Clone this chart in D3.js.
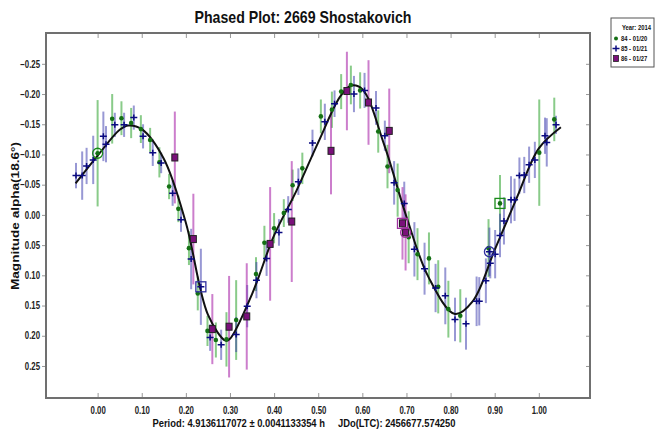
<!DOCTYPE html>
<html><head><meta charset="utf-8">
<script src="https://cdn.jsdelivr.net/npm/d3@7/dist/d3.min.js"></script>
<style>
body{margin:0;background:#fff;}
text{font-family:"Liberation Sans",Arial,sans-serif;font-weight:bold;}
</style></head>
<body><svg id="c" width="657" height="432"></svg>
<script>
const title = "Phased Plot: 2669 Shostakovich";
const yLabel = "Magnitude alpha(18.6°)";
const footer = "Period: 4.9136117072 ± 0.0041133354 h     JDo(LTC): 2456677.574250";
const xTicks = [0,0.1,0.2,0.3,0.4,0.5,0.6,0.7,0.8,0.9,1.0];
const yTicks = [-0.25,-0.2,-0.15,-0.1,-0.05,0,0.05,0.1,0.15,0.2,0.25];
const legendTitle = "Year: 2014";
const seriesNames = ["84 - 01/20","85 - 01/21","86 - 01/27"];

// [phase, magnitude, error]
const s84 = [[0.000,-0.102,0.088],[0.033,-0.159,0.041],[0.054,-0.160,0.028],[0.076,-0.152,0.025],[0.098,-0.142,0.023],
[0.119,-0.124,0.020],[0.140,-0.087,0.025],[0.162,-0.047,0.021],[0.183,-0.010,0.022],[0.207,0.055,0.028],[0.227,0.130,0.028],
[0.249,0.192,0.025],[0.268,0.207,0.029],[0.292,0.206,0.045],[0.314,0.174,0.066],[0.359,0.098,0.028],[0.378,0.046,0.028],
[0.400,0.022,0.025],[0.422,-0.003,0.023],[0.442,-0.049,0.026],[0.464,-0.077,0.026],[0.506,-0.163,0.028],[0.531,-0.174,0.030],
[0.552,-0.204,0.029],[0.574,-0.215,0.032],[0.595,-0.206,0.030],[0.636,-0.138,0.035],[0.657,-0.080,0.036],[0.680,-0.041,0.044],
[0.705,0.037,0.043],[0.725,0.065,0.043],[0.751,0.072,0.043],[0.772,0.119,0.044],[0.795,0.156,0.047],[0.822,0.167,0.044],
[0.886,0.055,0.048],[0.912,-0.019,0.047],[1.001,-0.103,0.088],[1.035,-0.158,0.036]];
const s85 = [[-0.049,-0.065,0.021],[-0.035,-0.065,0.040],[-0.025,-0.081,0.030],[-0.010,-0.091,0.040],[0.013,-0.130,0.041],
[0.019,-0.117,0.030],[0.039,-0.149,0.020],[0.060,-0.149,0.020],[0.082,-0.161,0.020],[0.103,-0.130,0.020],[0.125,-0.103,0.022],
[0.144,-0.086,0.017],[0.170,-0.036,0.021],[0.189,0.008,0.020],[0.212,0.073,0.050],[0.234,0.119,0.063],[0.255,0.203,0.022],
[0.280,0.215,0.025],[0.314,0.198,0.029],[0.339,0.151,0.035],[0.360,0.108,0.030],[0.383,0.072,0.029],[0.411,0.029,0.022],
[0.432,-0.009,0.022],[0.455,-0.055,0.022],[0.487,-0.119,0.022],[0.515,-0.154,0.030],[0.537,-0.184,0.022],[0.581,-0.200,0.030],
[0.605,-0.206,0.029],[0.631,-0.177,0.028],[0.651,-0.131,0.025],[0.672,-0.053,0.036],[0.695,-0.019,0.036],[0.718,0.057,0.045],
[0.741,0.089,0.043],[0.766,0.121,0.040],[0.788,0.134,0.047],[0.810,0.173,0.036],[0.835,0.180,0.043],[0.859,0.143,0.041],
[0.865,0.143,0.040],[0.880,0.109,0.037],[0.888,0.061,0.040],[0.890,0.080,0.025],[0.901,0.065,0.040],[0.912,0.034,0.036],
[0.921,0.010,0.039],[0.937,-0.025,0.039],[0.945,-0.025,0.035],[0.956,-0.065,0.030],[0.967,-0.066,0.030],[0.978,-0.083,0.030],
[0.991,-0.091,0.030],[1.014,-0.131,0.030],[1.018,-0.120,0.040],[1.039,-0.149,0.015]];
const s86 = [[0.175,-0.095,0.076],[0.217,0.040,0.075],[0.260,0.189,0.058],[0.298,0.185,0.084],[0.338,0.168,0.088],
[0.391,0.048,0.094],[0.440,0.011,0.100],[0.529,-0.106,0.072],[0.565,-0.205,0.065],[0.614,-0.186,0.070],[0.661,-0.139,0.070],
[0.691,0.014,0.060],[0.698,0.029,0.063]];
// highlighted first points: [series index, phase, magnitude, shape]
const rings = [[0,0.000,-0.102,"circle"],[1,0.234,0.119,"square"],[2,0.691,0.014,"square"],[2,0.698,0.029,"circle"],
[1,0.888,0.061,"circle"],[0,0.912,-0.019,"square"]];
// fitted curve [phase, magnitude]
const fit = [[-0.05,-0.052],[0.00,-0.098],[0.05,-0.141],[0.07,-0.148],[0.10,-0.142],[0.15,-0.093],[0.20,0.013],
[0.25,0.165],[0.29,0.208],[0.30,0.205],[0.35,0.131],[0.40,0.034],[0.45,-0.039],[0.50,-0.120],[0.55,-0.196],
[0.575,-0.214],[0.60,-0.208],[0.65,-0.115],[0.70,0.003],[0.75,0.103],[0.81,0.164],[0.85,0.143],[0.90,0.058],
[0.95,-0.028],[1.00,-0.110],[1.05,-0.145]];

const svg = d3.select("#c");
const x = d3.scaleLinear().domain([-0.117,1.116]).range([46,590]);
const y = d3.scaleLinear().domain([-0.301,0.303]).range([33,398]);
const fmt = d3.format(".2f");
const narrow = (sel, k) => sel.each(function(){ const l = this.getComputedTextLength(); if(l>0) d3.select(this).attr("textLength", l*k).attr("lengthAdjust","spacingAndGlyphs"); });

// title
svg.append("text").attr("x",303).attr("y",23).attr("text-anchor","middle").attr("font-size",17)
  .attr("textLength",217).attr("lengthAdjust","spacingAndGlyphs").attr("fill","#111").text(title);

// axes ticks
const tickStyle = g => { g.select(".domain").remove(); g.selectAll(".tick line").attr("stroke","#999"); 
  g.selectAll(".tick text").attr("font-size",10).attr("fill","#222").attr("font-family",'"Liberation Sans",Arial,sans-serif').attr("font-weight","bold"); };
const ly0 = svg.append("g").attr("transform","translate(46,0)").call(d3.axisLeft(y).tickValues(yTicks).tickFormat(fmt).tickSize(4).tickPadding(2)).call(tickStyle);
narrow(ly0.selectAll(".tick text"),0.78);
svg.append("g").attr("transform","translate(590,0)").call(d3.axisLeft(y).tickValues(yTicks).tickFormat("").tickSize(4)).call(tickStyle);
svg.append("g").attr("transform","translate(0,33)").call(d3.axisTop(x).tickValues(xTicks).tickFormat("").tickSize(-5)).call(tickStyle);
const bx = svg.append("g").attr("transform","translate(0,398)").call(d3.axisBottom(x).tickValues(xTicks).tickFormat(fmt).tickSize(-5).tickPadding(9)).call(tickStyle);
bx.selectAll(".tick text").attr("dy","0.71em");
narrow(bx.selectAll(".tick text"),0.78);

// frame
svg.append("rect").attr("x",46).attr("y",33).attr("width",544).attr("height",365).attr("fill","none").attr("stroke","#707070").attr("stroke-width",2);

// labels
svg.append("text").attr("transform","translate(19,216) rotate(-90)").attr("text-anchor","middle").attr("font-size",10.5).attr("fill","#111")
  .attr("textLength",148).attr("lengthAdjust","spacingAndGlyphs").text(yLabel);
svg.append("text").attr("x",304).attr("y",427).attr("text-anchor","middle").attr("font-size",10.5).attr("fill","#111")
  .attr("textLength",303).attr("lengthAdjust","spacingAndGlyphs").style("white-space","pre").text(footer);

const plot = svg.append("g");
const barColors = ["rgba(40,160,40,0.55)","rgba(50,50,170,0.5)","rgba(170,40,170,0.6)"];
const all = [s84,s85,s86];
all.forEach((s,i)=>{
  plot.append("g").selectAll("line").data(s).join("line")
    .attr("x1",d=>x(d[0])).attr("x2",d=>x(d[0])).attr("y1",d=>y(d[1]-d[2])).attr("y2",d=>y(d[1]+d[2]))
    .attr("stroke",barColors[i]).attr("stroke-width",2);
});

// fit curve
plot.append("path").datum(fit).attr("d",d3.line().x(d=>x(d[0])).y(d=>y(d[1])).curve(d3.curveCatmullRom.alpha(0.5)))
  .attr("fill","none").attr("stroke","#111").attr("stroke-width",2);

// markers
plot.append("g").selectAll("circle").data(s84).join("circle").attr("cx",d=>x(d[0])).attr("cy",d=>y(d[1])).attr("r",2.3).attr("fill","#147014");
const pg = plot.append("g");
pg.selectAll("path").data(s85).join("path").attr("d",d=>`M${x(d[0])-3.5},${y(d[1])}h7M${x(d[0])},${y(d[1])-3}v6`)
  .attr("stroke","#0a0a80").attr("stroke-width",1.5).attr("fill","none");
plot.append("g").selectAll("rect").data(s86).join("rect").attr("x",d=>x(d[0])-3).attr("y",d=>y(d[1])-3.5).attr("width",6).attr("height",7)
  .attr("fill","#7a107a").attr("stroke","#222").attr("stroke-width",1);

const ringColors = ["#1a8a1a","#3030a0","#a030a0"];
rings.forEach(r=>{
  if(r[3]==="circle") plot.append("circle").attr("cx",x(r[1])).attr("cy",y(r[2])).attr("r",5).attr("fill","none").attr("stroke",ringColors[r[0]]).attr("stroke-width",1.3);
  else plot.append("rect").attr("x",x(r[1])-5).attr("y",y(r[2])-5).attr("width",10).attr("height",10).attr("fill","none").attr("stroke",ringColors[r[0]]).attr("stroke-width",1.3);
});

// legend
const lg = svg.append("g");
lg.append("rect").attr("x",611).attr("y",18).attr("width",43).attr("height",49).attr("fill","#fff").attr("stroke","#555").attr("stroke-width",1);
lg.append("g").attr("transform","translate(622,30) scale(0.78,1)")
  .append("text").attr("x",0).attr("y",0).attr("font-size",7.5).attr("fill","#111").text(legendTitle);
const lyy = [41,51,61];
seriesNames.forEach((n,i)=>{
  const cy = lyy[i]-2.5;
  if(i===0) lg.append("circle").attr("cx",616).attr("cy",cy).attr("r",2).attr("fill","#147014");
  if(i===1) lg.append("path").attr("d",`M612.5,${cy}h7M616,${cy-3}v6`).attr("stroke","#0a0a80").attr("stroke-width",1.5);
  if(i===2) lg.append("rect").attr("x",613.5).attr("y",cy-3).attr("width",5).attr("height",6).attr("fill","#7a107a").attr("stroke","#222").attr("stroke-width",0.8);
  lg.append("g").attr("transform",`translate(621,${lyy[i]}) scale(0.78,1)`)
    .append("text").attr("x",0).attr("y",0).attr("font-size",7.5).attr("fill","#111").text(n);
});
</script></body></html>
